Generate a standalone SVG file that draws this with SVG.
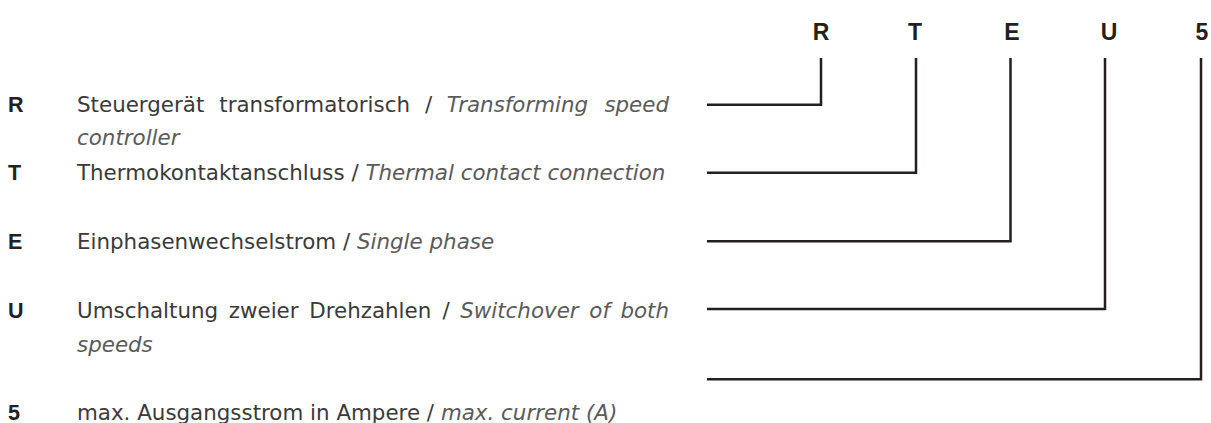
<svg xmlns="http://www.w3.org/2000/svg" width="1211" height="423" viewBox="0 0 1211 423">
<style>
.bg{fill:#ffffff}
.key{font-family:"Liberation Sans",Arial,sans-serif;font-weight:bold;font-size:21.5px;fill:#231f20}
.code{font-family:"Liberation Sans",Arial,sans-serif;font-weight:bold;font-size:23px;fill:#231f20;text-anchor:middle}
.de{font-family:"DejaVu Sans","Liberation Sans",sans-serif;font-size:21.4px;fill:#3a3a3a}
.en{font-family:"DejaVu Sans","Liberation Sans",sans-serif;font-size:21.4px;font-style:italic;fill:#5a5a5a}
.ln{fill:none;stroke:#231f20;stroke-width:2.5;stroke-linejoin:miter;stroke-linecap:butt}
</style>
<rect class="bg" x="0" y="0" width="1211" height="423"/>
<g id="code">
<text class="code" x="821" y="40">R</text>
<text class="code" x="915" y="40">T</text>
<text class="code" x="1012" y="40">E</text>
<text class="code" x="1109" y="40">U</text>
<text class="code" x="1202" y="40">5</text>
</g>
<g id="connectors">
<path class="ln" d="M707 104.7H821V58"/>
<path class="ln" d="M707 172.7H916V58"/>
<path class="ln" d="M707 241.3H1010.5V58"/>
<path class="ln" d="M707 309H1105V58"/>
<path class="ln" d="M707 379.3H1201V58"/>
</g>
<g id="node-R">
<text class="key" x="8" y="111.5">R</text>
<text class="de" x="77" y="111.5">Steuergerät</text>
<text class="de" x="219.3" y="111.5">transformatorisch</text>
<text class="de" x="425" y="111.5">/</text>
<text class="en" x="446.8" y="111.5">Transforming</text>
<text class="en" x="669" y="111.5" text-anchor="end">speed</text>
<text class="en" x="77" y="145">controller</text>
</g>
<g id="node-T">
<text class="key" x="8" y="180">T</text>
<text class="de" x="77" y="180">Thermokontaktanschluss / <tspan class="en">Thermal contact connection</tspan></text>
</g>
<g id="node-E">
<text class="key" x="8" y="249">E</text>
<text class="de" x="77" y="249">Einphasenwechselstrom / <tspan class="en">Single phase</tspan></text>
</g>
<g id="node-U">
<text class="key" x="8" y="318">U</text>
<text class="de" x="77" y="318">Umschaltung</text>
<text class="de" x="228.8" y="318">zweier</text>
<text class="de" x="309.2" y="318">Drehzahlen</text>
<text class="de" x="442.4" y="318">/</text>
<text class="en" x="460.2" y="318">Switchover</text>
<text class="en" x="589.3" y="318">of</text>
<text class="en" x="669" y="318" text-anchor="end">both</text>
<text class="en" x="77" y="351.5">speeds</text>
</g>
<g id="node-5">
<text class="key" x="8" y="420">5</text>
<text class="de" x="77" y="420">max. Ausgangsstrom in Ampere / <tspan class="en">max. current (A)</tspan></text>
</g>
</svg>
